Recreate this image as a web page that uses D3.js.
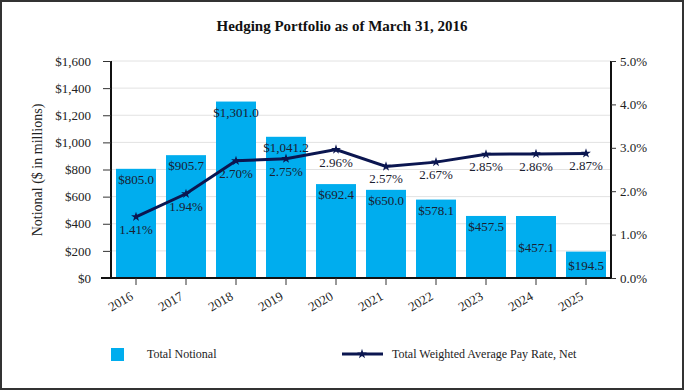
<!DOCTYPE html>
<html><head><meta charset="utf-8">
<script src="https://cdn.jsdelivr.net/npm/d3@7"></script>
<style>body{margin:0;background:#fff}svg{display:block}text{font-family:"Liberation Serif","Times New Roman",serif;fill:#222}</style>
</head><body><svg id="c" width="684" height="390"></svg>
<script>
const years = ["2016","2017","2018","2019","2020","2021","2022","2023","2024","2025"];
const notional = [805.0,905.7,1301.0,1041.2,692.4,650.0,578.1,457.5,457.1,194.5];
const payRate = [1.41,1.94,2.70,2.75,2.96,2.57,2.67,2.85,2.86,2.87];
const leftTicks = [0,200,400,600,800,1000,1200,1400,1600];
const rightTicks = [0,1,2,3,4,5];
const titleText = "Hedging Portfolio as of March 31, 2016";
const midLabelYears = ["2024","2025"];

const svg = d3.select("#c");
const m = {l:111, r:611, t:61, b:278};
svg.append("rect").attr("x",1).attr("y",1).attr("width",682).attr("height",388)
  .attr("fill","#fff").attr("stroke","#333").attr("stroke-width",2);

const x = d3.scaleBand().domain(years).range([m.l,m.r]).paddingInner(0.2).paddingOuter(0.1);
const y = d3.scaleLinear().domain([0,1600]).range([m.b,m.t]);
const y2 = d3.scaleLinear().domain([0,5]).range([m.b,m.t]);

// grid
svg.append("g").selectAll("line").data(leftTicks.slice(1)).join("line")
  .attr("x1",m.l).attr("x2",m.r).attr("y1",d=>y(d)).attr("y2",d=>y(d))
  .attr("stroke","#e2e2e2").attr("stroke-width",1);

// title
svg.append("text").attr("x",342).attr("y",31).attr("text-anchor","middle")
  .style("font-weight","bold").style("font-size","15px").style("fill","#111").text(titleText);

// bars
svg.append("g").selectAll("rect").data(years).join("rect")
  .attr("x",d=>x(d)).attr("width",x.bandwidth())
  .attr("y",(d,i)=>y(notional[i])).attr("height",(d,i)=>y(0)-y(notional[i]))
  .attr("fill","#00ADEE");

// bar labels
svg.append("g").selectAll("text").data(years).join("text")
  .attr("x",d=>x(d)+x.bandwidth()/2)
  .attr("y",(d,i)=> midLabelYears.includes(d) ? (y(notional[i])+y(0))/2+5 : y(notional[i])+15)
  .attr("text-anchor","middle").style("font-size","13px").style("fill","#1a2030")
  .text((d,i)=>"$"+d3.format(",.1f")(notional[i]));

// axes
const fmtL = d=>"$"+d3.format(",")(d);
const ax = svg.append("g").attr("transform",`translate(${m.l},0)`)
  .call(d3.axisLeft(y).tickValues(leftTicks).tickFormat(fmtL).tickSize(8).tickPadding(12));
const ar = svg.append("g").attr("transform",`translate(${m.r},0)`)
  .call(d3.axisRight(y2).tickValues(rightTicks).tickFormat(d=>d3.format(".1f")(d)+"%").tickSize(5).tickPadding(4));
const ab = svg.append("g").attr("transform",`translate(0,${m.b})`)
  .call(d3.axisBottom(x).tickSize(7).tickPadding(6));
[ax,ar,ab].forEach(g=>{
  g.select(".domain").attr("stroke","#111").attr("stroke-width",2);
  g.selectAll(".tick line").attr("stroke","#333");
  g.selectAll("text").style("font-family","'Liberation Serif',serif").style("font-size","13px").attr("fill","#222");
});
ax.select(".domain").attr("d",`M0,${m.t}V${m.b}`);
ar.select(".domain").attr("d",`M0,${m.t}V${m.b}`);
ab.select(".domain").attr("d",`M${m.l-10},0H${m.r}`);
ab.selectAll(".tick text").attr("text-anchor","end").attr("dx","-12").attr("y",17).attr("dy","0")
  .attr("transform","rotate(-30)");

// y label
svg.append("text").attr("transform","translate(42,170) rotate(-90)").attr("text-anchor","middle")
  .style("font-size","14px").text("Notional ($ in millions)");

// line
const lineColor = "#0B1650";
const pts = years.map((d,i)=>[x(d)+x.bandwidth()/2, y2(payRate[i])]);
svg.append("path").attr("d",d3.line()(pts)).attr("fill","none").attr("stroke",lineColor).attr("stroke-width",3);
const star = d3.symbol().type(d3.symbolStar).size(30);
svg.append("g").selectAll("path").data(pts).join("path")
  .attr("transform",p=>`translate(${p[0]},${p[1]})`).attr("d",star).attr("fill",lineColor);
svg.append("g").selectAll("text").data(years).join("text")
  .attr("x",(d,i)=>pts[i][0]).attr("y",(d,i)=>pts[i][1]+17)
  .attr("text-anchor","middle").style("font-size","13px").style("fill","#1a2030")
  .text((d,i)=>d3.format(".2f")(payRate[i])+"%");

// legend
svg.append("rect").attr("x",111).attr("y",348).attr("width",13).attr("height",13).attr("fill","#00ADEE");
svg.append("text").attr("x",147).attr("y",358).style("font-size","12px").text("Total Notional");
svg.append("line").attr("x1",342).attr("x2",383).attr("y1",354).attr("y2",354).attr("stroke",lineColor).attr("stroke-width",3);
svg.append("path").attr("transform","translate(362,354)").attr("d",star).attr("fill",lineColor);
svg.append("text").attr("x",392).attr("y",358).style("font-size","12px").text("Total Weighted Average Pay Rate, Net");
</script></body></html>
